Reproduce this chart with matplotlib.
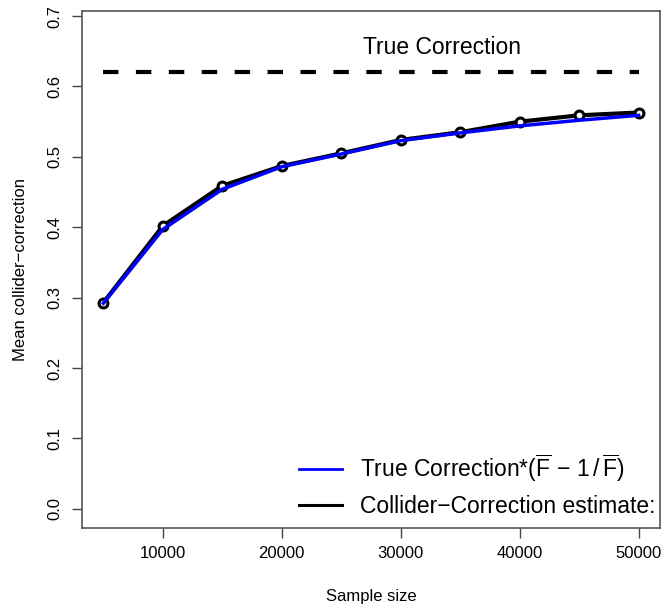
import matplotlib.pyplot as plt

plt.rcParams['font.family'] = ['Liberation Sans', 'DejaVu Sans']
plt.rcParams['mathtext.fontset'] = 'custom'
plt.rcParams['mathtext.rm'] = 'Liberation Sans'
plt.rcParams['mathtext.it'] = 'Liberation Sans:italic'

# data
sample_size = [5000, 10000, 15000, 20000, 25000, 30000, 35000, 40000, 45000, 50000]
collider_est = [0.293, 0.402, 0.459, 0.487, 0.505, 0.524, 0.535, 0.550, 0.559, 0.563]
true_scaled = [0.292, 0.397, 0.454, 0.486, 0.504, 0.523, 0.534, 0.544, 0.552, 0.559]
true_correction = 0.62

x_ticks = [10000, 20000, 30000, 40000, 50000]
y_ticks = [0.0, 0.1, 0.2, 0.3, 0.4, 0.5, 0.6, 0.7]

fig = plt.figure(figsize=(6.66, 6.13), dpi=100)
ax = fig.add_axes([82 / 666, 1 - 528 / 613, 578 / 666, 517 / 613])

# dashed reference line
ax.plot([sample_size[0], sample_size[-1]], [true_correction, true_correction],
        color='black', linewidth=3, dashes=(3.7, 4.2), solid_capstyle='butt',
        dash_capstyle='butt')
ax.text(33500, 0.656, 'True Correction', fontsize=16.5, ha='center', va='center')

# estimate line with open circles
ax.plot(sample_size, collider_est, color='black', linewidth=3, marker='o',
        markersize=6.4, markerfacecolor='white', markeredgecolor='black',
        markeredgewidth=2.2, zorder=3)
# true correction times (F - 1/F)
ax.plot(sample_size, true_scaled, color='blue', linewidth=2.5, zorder=4)

ax.set_xlim(3200, 51800)
ax.set_ylim(-0.0272, 0.7072)
ax.set_xticks(x_ticks)
ax.set_xticklabels([str(v) for v in x_ticks])
ax.set_yticks(y_ticks)
ax.set_yticklabels(['%.1f' % v for v in y_ticks], rotation=90, va='center')
ax.tick_params(direction='out', length=7, width=1, color='#444444', labelsize=12)
ax.tick_params(axis='x', pad=6)
ax.tick_params(axis='y', pad=7)

for s in ax.spines.values():
    s.set_color('#555555')
    s.set_linewidth(1.2)

ax.set_xlabel('Sample size', fontsize=12, labelpad=20)
ax.set_ylabel('Mean collider\u2212correction', fontsize=12, labelpad=14)

h1, = ax.plot([], [], color='blue', linewidth=2)
h2, = ax.plot([], [], color='black', linewidth=2.2)
ax.legend([h1, h2],
          [r'True Correction*($\overline{\mathrm{F}}\,-\,1\,/\,\overline{\mathrm{F}}$)',
           'Collider\u2212Correction estimate:'],
          loc='lower right', bbox_to_anchor=(0.993, 0.02), frameon=False,
          fontsize=16.5, handlelength=1.87, handletextpad=0.8,
          labelspacing=0.45, borderpad=0, borderaxespad=0)

fig.savefig('out.png', dpi=100)
